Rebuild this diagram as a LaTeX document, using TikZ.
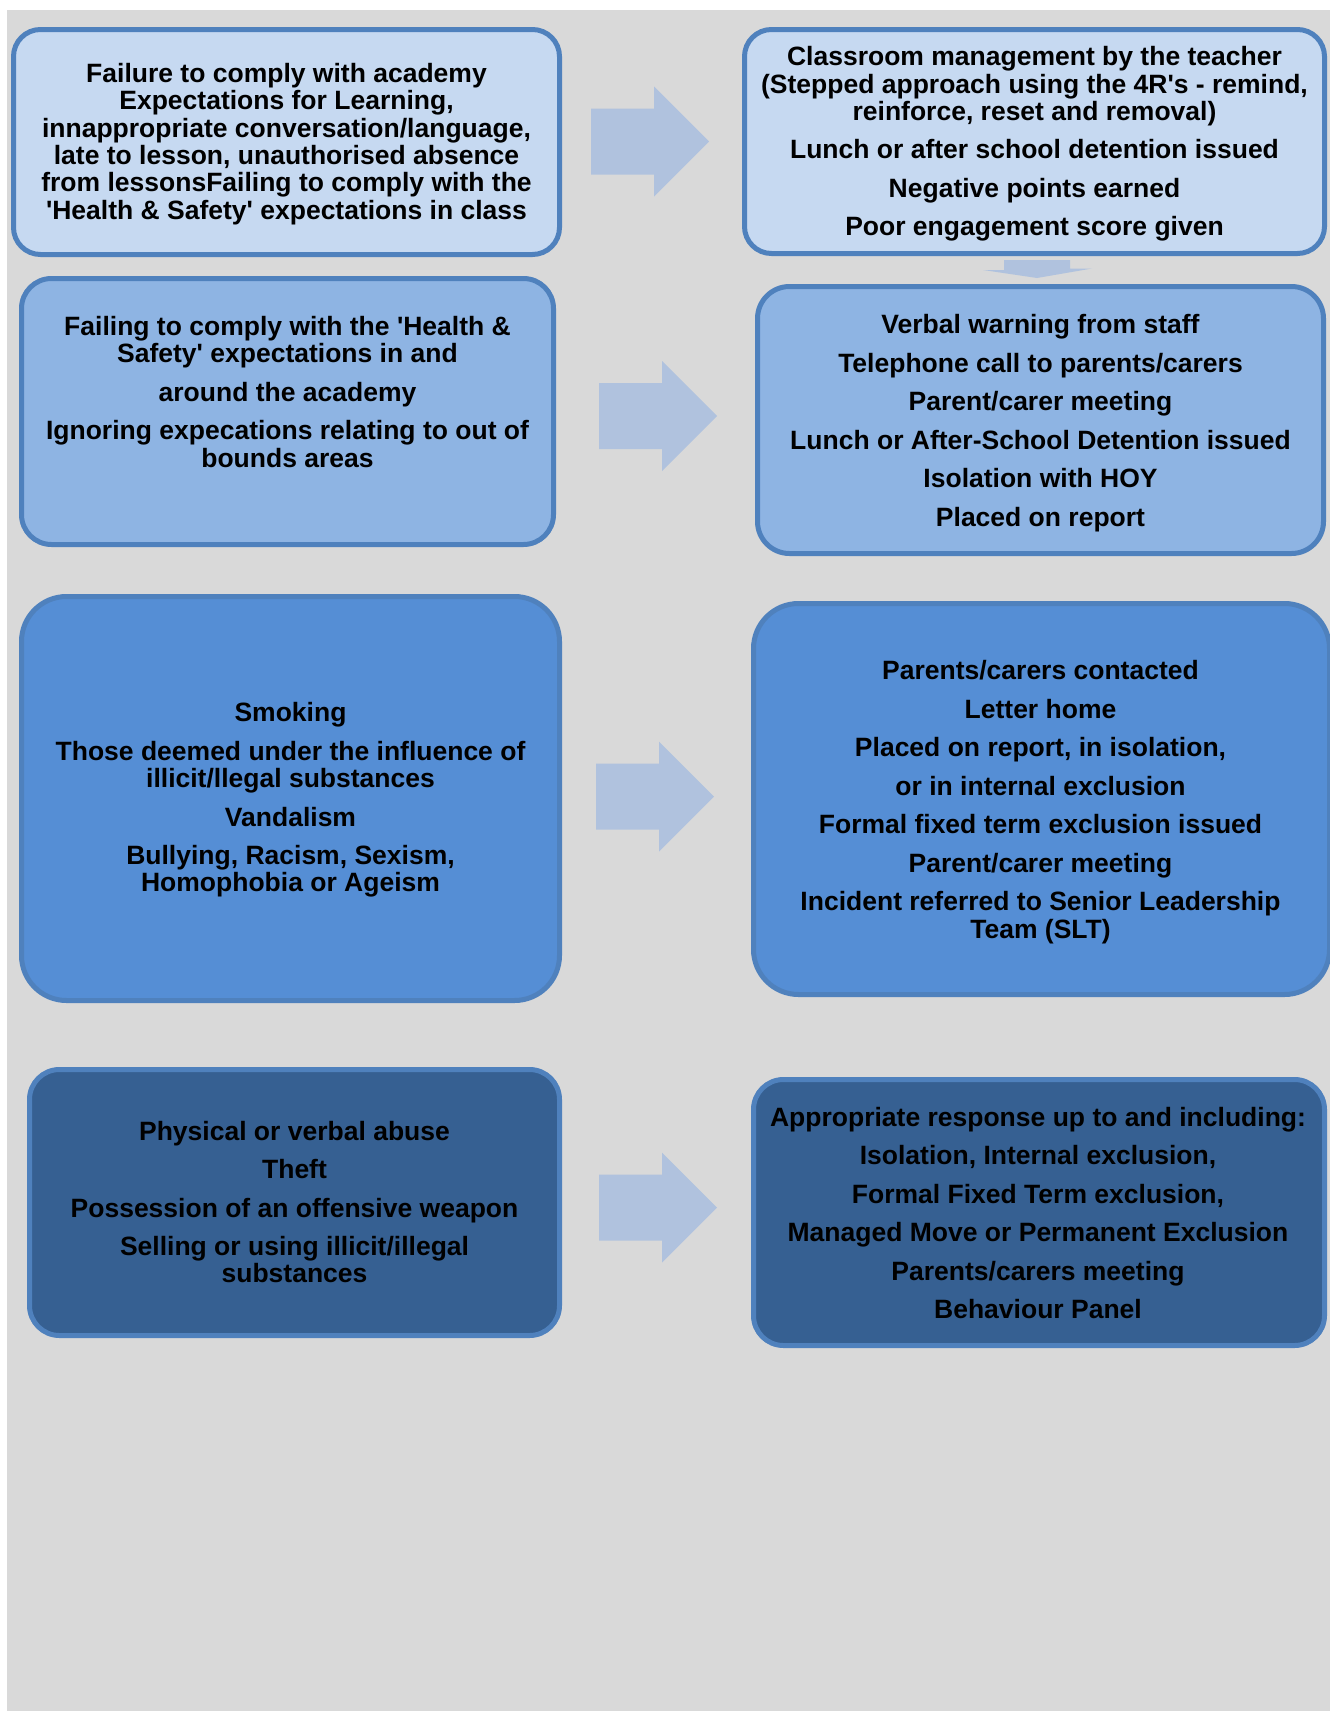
\documentclass[tikz,border=0pt]{standalone}
\usepackage{fontspec}
\newfontfamily\lsans{Liberation Sans}
\definecolor{bggray}{HTML}{D9D9D9}
\definecolor{bordercol}{HTML}{4F81BD}
\definecolor{fillA}{HTML}{C6D9F1}
\definecolor{fillB}{HTML}{8EB4E3}
\definecolor{fillC}{HTML}{558ED5}
\definecolor{fillD}{HTML}{366092}
\definecolor{arrowfill}{HTML}{B0C2DE}
\begin{document}
\begin{tikzpicture}[x=1pt,y=-1pt,
  box/.style={draw=bordercol, line width=5pt, rectangle, inner sep=0pt, outer sep=0pt},
  txt/.style={align=center, inner sep=0pt, outer sep=0pt, text=black,
    font=\lsans\bfseries\fontsize{26.5}{27.3}\selectfont},
  blockarrow/.pic={\fill[arrowfill] (-118,-33) -- (-55,-33) -- (-55,-55) -- (0,0) -- (-55,55) -- (-55,33) -- (-118,33) -- cycle;}
]
\useasboundingbox (0,0) rectangle (1330,1711);
\fill[white] (0,0) rectangle (1330,1711);
\fill[bggray] (7,10) rectangle (1330,1711);

% row 1
\node[box, fill=fillA, rounded corners=27pt, minimum width=546pt, minimum height=225pt] (a1) at (286.5,142) {};
\node[box, fill=fillA, rounded corners=27pt, minimum width=580pt, minimum height=224pt] (b1) at (1034.5,141.5) {};
% row 2
\node[box, fill=fillB, rounded corners=30pt, minimum width=532pt, minimum height=266pt] (a2) at (287.5,411.5) {};
\node[box, fill=fillB, rounded corners=32pt, minimum width=566pt, minimum height=267pt] (b2) at (1040.5,420) {};
% row 3
\node[box, fill=fillC, rounded corners=45pt, minimum width=538pt, minimum height=404pt] (a3) at (290.5,798.5) {};
\node[box, fill=fillC, rounded corners=45pt, minimum width=576pt, minimum height=391pt] (b3) at (1041.5,799) {};
% row 4
\node[box, fill=fillD, rounded corners=30pt, minimum width=530pt, minimum height=266pt] (a4) at (294.5,1202.5) {};
\node[box, fill=fillD, rounded corners=30pt, minimum width=571pt, minimum height=266pt] (b4) at (1039,1212.5) {};

% arrows
\pic at (709,141.5) {blockarrow};
\pic at (717,416) {blockarrow};
\pic at (714,796.5) {blockarrow};
\pic at (717,1207.5) {blockarrow};
\fill[arrowfill] (1004,260) -- (1070,260) -- (1070,268.5) -- (1092,268.5) -- (1037,278) -- (983,270) -- (1004,270) -- cycle;

% texts
\node[txt] (a1t) at (286.5,144) {Failure to comply with academy\\Expectations for Learning,\\innappropriate conversation/language,\\late to lesson, unauthorised absence\\from lessonsFailing to comply with the\\'Health \& Safety' expectations in class};
\node[txt] (b1t) at (1034.5,144) {Classroom management by the teacher\\(Stepped approach using the 4R's - remind,\\reinforce, reset and removal)\\[11.2pt]Lunch or after school detention issued\\[11.2pt]Negative points earned\\[11.2pt]Poor engagement score given};
\node[txt] (a2t) at (287.5,392) {Failing to comply with the 'Health \&\\Safety' expectations in and\\[11.2pt]around the academy\\[11.2pt]Ignoring expecations relating to out of\\bounds areas};
\node[txt] (b2t) at (1040.5,423) {Verbal warning from staff\\[11.2pt]Telephone call to parents/carers\\[11.2pt]Parent/carer meeting\\[11.2pt]Lunch or After-School Detention issued\\[11.2pt]Isolation with HOY\\[11.2pt]Placed on report};
\node[txt] (a3t) at (290.5,800) {Smoking\\[11.2pt]Those deemed under the influence of\\illicit/llegal substances\\[11.2pt]Vandalism\\[11.2pt]Bullying, Racism, Sexism,\\Homophobia or Ageism};
\node[txt] (b3t) at (1040.5,802) {Parents/carers contacted\\[11.2pt]Letter home\\[11.2pt]Placed on report, in isolation,\\[11.2pt]or in internal exclusion\\[11.2pt]Formal fixed term exclusion issued\\[11.2pt]Parent/carer meeting\\[11.2pt]Incident referred to Senior Leadership\\Team (SLT)};
\node[txt] (a4t) at (294.5,1202) {Physical or verbal abuse\\[11.2pt]Theft\\[11.2pt]Possession of an offensive weapon\\[11.2pt]Selling or using illicit/illegal\\substances};
\node[txt] (b4t) at (1038,1213) {Appropriate response up to and including:\\[11.2pt]Isolation, Internal exclusion,\\[11.2pt]Formal Fixed Term exclusion,\\[11.2pt]Managed Move or Permanent Exclusion\\[11.2pt]Parents/carers meeting\\[11.2pt]Behaviour Panel};
\end{tikzpicture}
\end{document}
